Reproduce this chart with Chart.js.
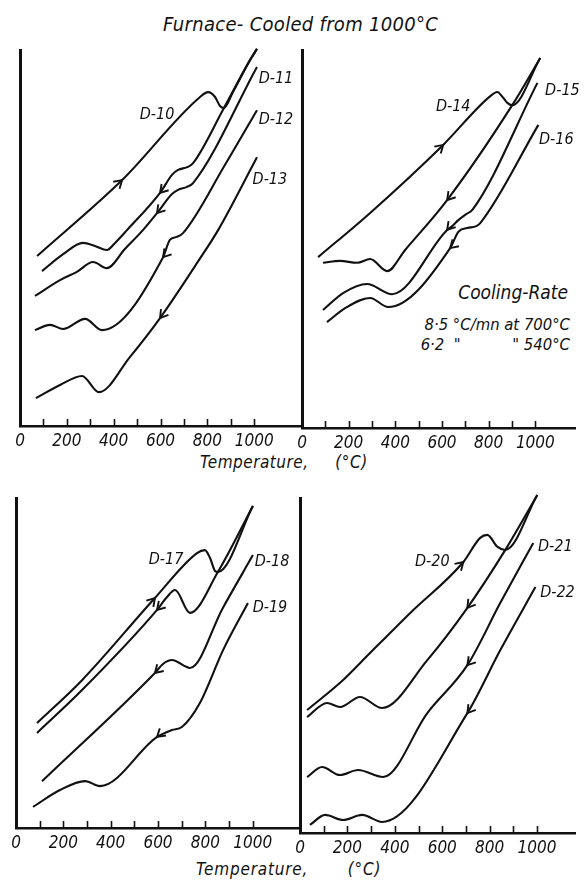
<!DOCTYPE html>
<html>
<head>
<meta charset="utf-8">
<script src="https://cdn.jsdelivr.net/npm/chart.js@4.4.1/dist/chart.umd.min.js"></script>
<style>
  body { margin: 0; background: #fff; width: 584px; height: 881px; position: relative; overflow: hidden;
         font-family: 'DejaVu Sans Condensed', 'DejaVu Sans', sans-serif; font-style: italic; color: #111; }
  canvas { position: absolute; }
  .txt { position: absolute; white-space: pre; line-height: 1; }
</style>
</head>
<body>
<div class="txt" style="left:163px; top:14px; font-size:20px; letter-spacing:0.3px;">Furnace- Cooled from 1000°C</div>
<div class="txt" style="left:200px; top:454px; font-size:17px; letter-spacing:0.5px;">Temperature,     (°C)</div>
<div class="txt" style="left:196px; top:861px; font-size:17px; letter-spacing:0.8px;">Temperature,       (°C)</div>
<div class="txt" style="left:440px; top:283px; width:128px; text-align:right; font-size:19px;">Cooling-Rate</div>
<div class="txt" style="left:410px; top:317px; width:160px; text-align:right; font-size:16.5px;">8·5 °C/mn at 700°C</div>
<div class="txt" style="left:410px; top:337px; width:160px; text-align:right; font-size:16.5px;">6·2  "           " 540°C</div>

<canvas id="p1"></canvas>
<canvas id="p2"></canvas>
<canvas id="p3"></canvas>
<canvas id="p4"></canvas>

<script>
// temperature axis (°C)
const tempTicks = [0, 100, 200, 300, 400, 500, 600, 700, 800, 900, 1000];
const labelledTemps = [0, 200, 400, 600, 800, 1000];

// dilatation curves, [temperature °C, expansion (arb.)]
const d10Heat = [[73,45.2],[436,65.4],[769,87.5],[803,88.8],[833,87.5],[854,85.1],[871,84.6],[910,88.9],[982,97.3],[1012,100.3]];
const d10Cool = [[94,41.2],[184,45.7],[269,48.7],[320,47.9],[371,46.8],[406,48.7],[457,52.1],[598,62.0],[649,66.8],[675,68.1],[717,68.9],[739,69.9],[871,84.6],[982,97.3],[1012,100.3]];
const d11 = [[64,34.6],[171,38.8],[243,41.0],[312,43.6],[371,42.0],[448,47.1],[525,52.1],[585,56.6],[649,61.7],[675,62.8],[713,63.6],[739,64.6],[1012,95.5]];
const d12 = [[64,25.5],[128,26.9],[184,25.8],[278,28.5],[350,25.5],[611,44.9],[640,49.5],[670,50.3],[696,51.3],[875,69.4],[1012,84.0]];
const d13 = [[68,7.4],[171,10.9],[265,13.3],[337,9.0],[470,18.4],[598,28.7],[764,44.1],[846,52.1],[1012,71.5]];

const d14Heat = [[69,45.2],[292,56.9],[605,74.9],[807,87.8],[837,88.9],[863,87.3],[880,86.0],[901,85.4],[1021,97.9]];
const d14Cool = [[90,43.7],[163,44.2],[236,43.7],[292,44.7],[365,41.5],[442,47.1],[622,60.3],[901,85.4],[1021,97.9]];
const d15 = [[90,31.2],[176,35.7],[279,38.1],[386,35.4],[622,52.4],[640,53.2],[670,55.0],[704,56.6],[730,57.7],[1009,91.3]];
const d16 = [[107,28.0],[185,31.7],[292,34.4],[369,32.0],[635,47.6],[670,51.9],[708,52.9],[747,53.4],[764,54.2],[1013,80.2]];

const d17Heat = [[89,31.8],[279,44.8],[587,69.7],[765,83.3],[798,84.2],[820,81.8],[841,77.9],[853,77.6],[1001,97.6]];
const d17Cool = [[89,28.8],[279,41.8],[596,66.1],[638,70.0],[672,72.1],[735,65.2],[853,77.6],[1001,97.6]];
const d18 = [[110,14.2],[587,47.0],[621,49.7],[659,50.9],[735,48.5],[874,66.7],[1001,82.7]];
const d19 = [[72,6.4],[186,11.5],[292,14.2],[355,12.7],[596,27.6],[659,29.7],[701,30.6],[777,37.9],[875,53.9],[980,68.2]];

const d20Heat = [[30,36.7],[182,45.7],[253,50.7],[465,65.7],[689,80.9],[760,88.1],[790,89.0],[832,85.5],[866,84.5],[1001,100.9]];
const d20Cool = [[30,34.6],[114,38.8],[169,37.6],[253,40.6],[346,37.3],[537,51.6],[706,67.2],[866,84.5],[1001,100.9]];
const d21 = [[30,16.7],[93,19.7],[169,17.3],[245,18.8],[351,16.7],[537,35.8],[706,50.1],[845,68.7],[984,86.6]];
const d22 = [[42,2.4],[106,5.4],[182,3.9],[262,5.4],[346,3.3],[706,35.8],[845,54.6],[993,73.4]];

const ink = '#111';
const labelFont = 'italic 16px "DejaVu Sans Condensed", "DejaVu Sans", sans-serif';

// small upward tick marks on the temperature axis
const tickMarks = {
  id: 'tickMarks',
  afterDraw(chart) {
    const ctx = chart.ctx, xs = chart.scales.x, base = chart.chartArea.bottom;
    ctx.save();
    ctx.strokeStyle = ink;
    ctx.lineWidth = 1.6;
    tempTicks.forEach(t => {
      if (t === 0) return;
      const x = Math.round(xs.getPixelForValue(t)) + 0.5;
      ctx.beginPath();
      ctx.moveTo(x, base);
      ctx.lineTo(x, base - 7);
      ctx.stroke();
    });
    ctx.restore();
  }
};

// open arrowheads showing heating / cooling direction
const arrowHeads = {
  id: 'arrowHeads',
  afterDatasetsDraw(chart) {
    const ctx = chart.ctx, xs = chart.scales.x;
    ctx.save();
    ctx.strokeStyle = ink;
    ctx.lineWidth = 1.9;
    chart.data.datasets.forEach((ds, i) => {
      if (!ds.arrows) return;
      const pts = chart.getDatasetMeta(i).data;
      ds.arrows.forEach(t => {
        const px = xs.getPixelForValue(t);
        for (let k = 0; k < pts.length - 1; k++) {
          const a = pts[k], b = pts[k + 1];
          if (px < a.x || px > b.x) continue;
          const f = (px - a.x) / (b.x - a.x);
          const py = a.y + f * (b.y - a.y);
          const len = Math.hypot(b.x - a.x, b.y - a.y);
          const dx = (b.x - a.x) / len * ds.arrowDir, dy = (b.y - a.y) / len * ds.arrowDir;
          const ang = 0.55, L = 9;
          ctx.beginPath();
          [ang, -ang].forEach((r, j) => {
            const wx = dx * Math.cos(r) - dy * Math.sin(r);
            const wy = dx * Math.sin(r) + dy * Math.cos(r);
            if (j === 0) { ctx.moveTo(px - L * wx, py - L * wy); ctx.lineTo(px, py); }
            else ctx.lineTo(px - L * wx, py - L * wy);
          });
          ctx.stroke();
          break;
        }
      });
    });
    ctx.restore();
  }
};

function makePanel(id, box, xMax, curves, names) {
  const cv = document.getElementById(id);
  const padL = 10, padT = 30, padR = 12, padB = 30;
  cv.width = box.right - box.left + padL + padR;
  cv.height = box.bottom - box.top + padT + padB;
  cv.style.left = (box.left - padL) + 'px';
  cv.style.top = (box.top - padT) + 'px';

  const curveNames = {
    id: 'curveNames',
    afterDraw(chart) {
      const ctx = chart.ctx;
      ctx.save();
      ctx.font = labelFont;
      ctx.fillStyle = ink;
      ctx.textAlign = 'center';
      ctx.textBaseline = 'middle';
      names.forEach(n => ctx.fillText(n.text, chart.scales.x.getPixelForValue(n.t), chart.scales.y.getPixelForValue(n.v)));
      ctx.restore();
    }
  };

  return new Chart(cv, {
    type: 'line',
    data: {
      datasets: curves.map(c => ({
        data: c.points.map(p => ({ x: p[0], y: p[1] })),
        borderColor: ink,
        borderWidth: 2.1,
        pointRadius: 0,
        fill: false,
        clip: false,
        cubicInterpolationMode: 'monotone',
        arrows: c.arrows,
        arrowDir: c.dir
      }))
    },
    options: {
      responsive: false,
      animation: false,
      events: [],
      layout: { padding: { top: padT, right: padR, left: 0, bottom: 0 } },
      plugins: { legend: { display: false }, tooltip: { enabled: false } },
      scales: {
        x: {
          type: 'linear', min: 0, max: xMax,
          afterBuildTicks: s => { s.ticks = tempTicks.map(v => ({ value: v })); },
          afterFit: s => { s.height = padB; },
          grid: { display: false, drawTicks: false },
          border: { color: ink, width: 2.5 },
          ticks: {
            padding: 5, color: ink, autoSkip: false, maxRotation: 0,
            font: { family: '"DejaVu Sans Condensed", "DejaVu Sans", sans-serif', size: 17, style: 'italic' },
            callback: v => labelledTemps.includes(v) ? String(v) : ''
          }
        },
        y: {
          min: 0, max: 100,
          afterFit: s => { s.width = padL; },
          ticks: { display: false },
          grid: { display: false },
          border: { color: ink, width: 3 }
        }
      }
    },
    plugins: [tickMarks, arrowHeads, curveNames]
  });
}

makePanel('p1', { left: 20, right: 301, top: 50, bottom: 426 }, 1200, [
  { points: d10Heat, arrows: [436], dir: 1 },
  { points: d10Cool, arrows: [598], dir: -1 },
  { points: d11, arrows: [585], dir: -1 },
  { points: d12, arrows: [611], dir: -1 },
  { points: d13, arrows: [598], dir: -1 }
], [
  { text: 'D-10', t: 585, v: 82.7 },
  { text: 'D-11', t: 1093, v: 92.3 },
  { text: 'D-12', t: 1093, v: 81.4 },
  { text: 'D-13', t: 1067, v: 65.4 }
]);

makePanel('p2', { left: 302, right: 575, top: 50, bottom: 428 }, 1170, [
  { points: d14Heat, arrows: [605], dir: 1 },
  { points: d14Cool, arrows: [622], dir: -1 },
  { points: d15, arrows: [622], dir: -1 },
  { points: d16, arrows: [635], dir: -1 }
], [
  { text: 'D-14', t: 648, v: 84.9 },
  { text: 'D-15', t: 1116, v: 89.2 },
  { text: 'D-16', t: 1090, v: 76.2 }
]);

makePanel('p3', { left: 16, right: 300, top: 498, bottom: 828 }, 1200, [
  { points: d17Heat, arrows: [587], dir: 1 },
  { points: d17Cool, arrows: [596], dir: -1 },
  { points: d18, arrows: [587], dir: -1 },
  { points: d19, arrows: [596], dir: -1 }
], [
  { text: 'D-17', t: 634, v: 81.2 },
  { text: 'D-18', t: 1082, v: 80.6 },
  { text: 'D-19', t: 1073, v: 66.7 }
]);

makePanel('p4', { left: 300, right: 575, top: 498, bottom: 833 }, 1160, [
  { points: d20Heat, arrows: [689], dir: 1 },
  { points: d20Cool, arrows: [706], dir: -1 },
  { points: d21, arrows: [706], dir: -1 },
  { points: d22, arrows: [706], dir: -1 }
], [
  { text: 'D-20', t: 558, v: 80.9 },
  { text: 'D-21', t: 1077, v: 85.4 },
  { text: 'D-22', t: 1086, v: 71.6 }
]);
</script>
</body>
</html>
